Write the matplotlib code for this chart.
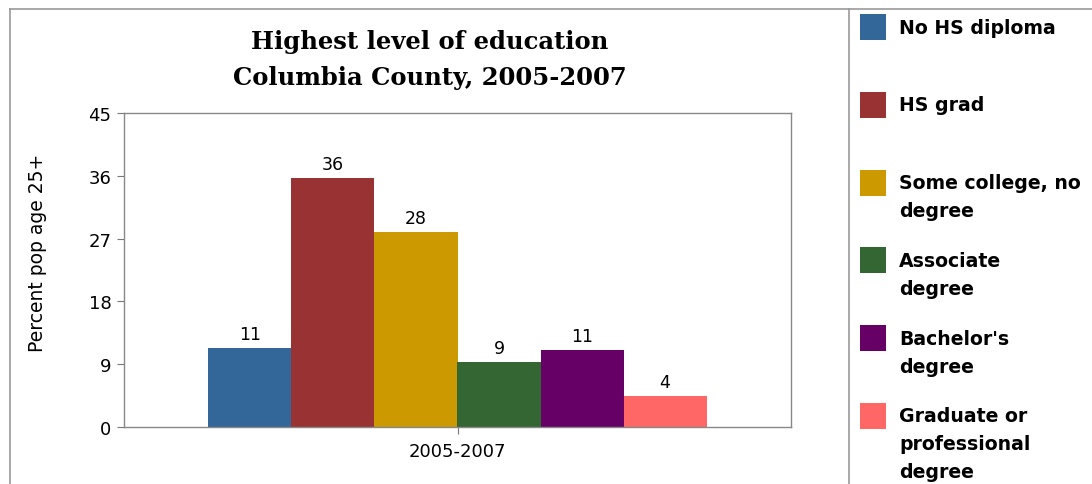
import matplotlib
matplotlib.use("Agg")
import matplotlib.pyplot as plt
from matplotlib.patches import Rectangle
from matplotlib.lines import Line2D

categories = ["No HS diploma", "HS grad", "Some college, no degree", "Associate degree",
              "Bachelor's degree", "Graduate or professional degree"]
legend_labels = ["No HS diploma", "HS grad", "Some college, no\ndegree", "Associate\ndegree",
                 "Bachelor's\ndegree", "Graduate or\nprofessional\ndegree"]
values = [11.3, 35.7, 27.9, 9.3, 11.0, 4.4]
colors = ["#336699", "#993333", "#CC9900", "#336633", "#660066", "#FF6666"]
group_label = "2005-2007"
yticks = [0, 9, 18, 27, 36, 45]

W, H = 1092, 485
fig = plt.figure(figsize=(W / 100, H / 100), dpi=100)


def fx(px):
    return px / W


def fy(py):
    return 1 - py / H


SANS = "DejaVu Sans"

# plot area in pixels
L, R, T, B = 124, 791, 114, 428
ax = fig.add_axes([fx(L), fy(B), fx(R) - fx(L), fy(T) - fy(B)])

n = len(values)
group_w = 0.747
bw = group_w / n
start = 0.5 - group_w / 2
for i, (v, c) in enumerate(zip(values, colors)):
    x = start + bw * (i + 0.5)
    ax.bar(x, v, width=bw, color=c, edgecolor="none")
    ax.text(x, v + 0.7, f"{v:.0f}", ha="center", va="bottom", fontsize=12.5, family=SANS)

ax.set_xlim(0, 1)
ax.set_ylim(0, 45)
ax.set_yticks(yticks)
ax.set_yticklabels([str(t) for t in yticks], fontsize=13, family=SANS)
ax.set_xticks([0.5])
ax.set_xticklabels([group_label], fontsize=13, family=SANS)
ax.tick_params(axis="x", length=5, color="#777777", pad=6)
ax.tick_params(axis="y", length=5, color="#777777", pad=4)
for s in ax.spines.values():
    s.set_color("#888888")
    s.set_linewidth(1)

# y-axis label
fig.text(fx(38), fy(253), "Percent pop age 25+", rotation=90, ha="center", va="center",
         fontsize=13.5, family=SANS)

# title
fig.text(fx(430), fy(42), "Highest level of education", ha="center", va="center",
         fontsize=17.5, fontweight="bold", family="DejaVu Serif")
fig.text(fx(430), fy(78), "Columbia County, 2005-2007", ha="center", va="center",
         fontsize=17.5, fontweight="bold", family="DejaVu Serif")

# frame lines
fig.add_artist(Line2D([fx(10), 1], [fy(9.5), fy(9.5)], color="#999999", lw=1.2))
fig.add_artist(Line2D([fx(10), fx(10)], [fy(9.5), 0], color="#999999", lw=1.2))
fig.add_artist(Line2D([fx(849), fx(849)], [fy(9.5), 0], color="#999999", lw=1.2))

# legend
for i, (lab, c) in enumerate(zip(legend_labels, colors)):
    yc = 28 + 77.8 * i
    fig.add_artist(Rectangle((fx(860), fy(yc + 13)), fx(26), fy(0) - fy(26),
                             facecolor=c, edgecolor="none"))
    for j, ln in enumerate(lab.split("\n")):
        fig.text(fx(899), fy(yc + 28 * j), ln, ha="left", va="center",
                 fontsize=13.6, fontweight="bold", family=SANS)

fig.savefig("out.png", dpi=100)
